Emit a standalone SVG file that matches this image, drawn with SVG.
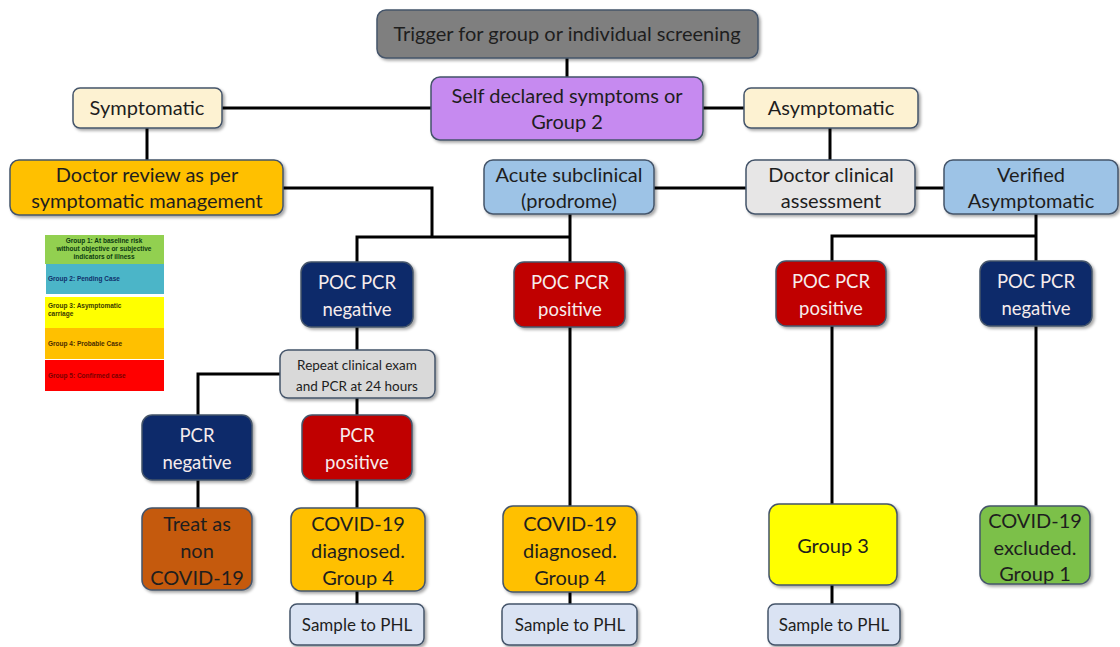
<svg xmlns="http://www.w3.org/2000/svg" width="1120" height="647" viewBox="0 0 1120 647">
<defs>
<filter id="sh" x="-10%" y="-10%" width="130%" height="130%">
<feDropShadow dx="2" dy="2" stdDeviation="1.5" flood-color="#000" flood-opacity="0.35"/>
</filter>
<style>
.b{stroke:#44546a;stroke-width:1.5;filter:url(#sh)}
.t{font-family:Lato,"Open Sans",sans-serif;font-size:20px;text-anchor:middle;fill:#1e1e1e}
.w{fill:#f6ecec;font-size:18.5px}
.s{font-size:13.5px}
.p{font-size:17px}
.lg{font-family:"Liberation Sans Narrow","Liberation Sans",sans-serif;font-size:6.5px;font-weight:bold}
#connectors path{fill:none;stroke:#000;stroke-width:3}
</style>
</defs>
<rect width="1120" height="647" fill="#fff"/>
<g id="connectors">
<path d="M567 58V77"/>
<path d="M222 108H431"/>
<path d="M703 108H744"/>
<path d="M147 128V160"/>
<path d="M830 128V160"/>
<path d="M283 188H432V237"/>
<path d="M654 188H746"/>
<path d="M915 188H944"/>
<path d="M570 214V262"/>
<path d="M357 262V237H570"/>
<path d="M1036 214V261"/>
<path d="M832 261V236H1036"/>
<path d="M357 327V350"/>
<path d="M280 374H198V415"/>
<path d="M357 398V415"/>
<path d="M198 480V508"/>
<path d="M357 480V508"/>
<path d="M357 591V604"/>
<path d="M570 327V506"/>
<path d="M570 592V604"/>
<path d="M832 326V504"/>
<path d="M832 585V604"/>
<path d="M1036 326V506"/>
</g>
<g id="trigger"><rect class="b" x="377" y="10" width="381" height="48" rx="9" fill="#7f7f7f"/><text class="t" x="567" y="41">Trigger for group or individual screening</text></g>
<g id="selfdeclared"><rect class="b" x="431" y="77" width="272" height="63" rx="9" fill="#c68af0"/><text class="t" x="567" y="103">Self declared symptoms or</text><text class="t" x="567" y="129">Group 2</text></g>
<g id="symptomatic"><rect class="b" x="73" y="88" width="149" height="40" rx="7" fill="#fdf2d2"/><text class="t" x="147" y="115">Symptomatic</text></g>
<g id="asymptomatic"><rect class="b" x="744" y="88" width="174" height="40" rx="7" fill="#fdf2d2"/><text class="t" x="831" y="115">Asymptomatic</text></g>
<g id="doctorreview"><rect class="b" x="10" y="160" width="273" height="55" rx="9" fill="#ffc000"/><text class="t" x="147" y="182">Doctor review as per</text><text class="t" x="147" y="208">symptomatic management</text></g>
<g id="acute"><rect class="b" x="484" y="160" width="170" height="54" rx="9" fill="#9dc3e6"/><text class="t" x="569" y="182">Acute subclinical</text><text class="t" x="569" y="208">(prodrome)</text></g>
<g id="doctorclinical"><rect class="b" x="746" y="160" width="169" height="54" rx="9" fill="#e7e6e6"/><text class="t" x="831" y="182">Doctor clinical</text><text class="t" x="831" y="208">assessment</text></g>
<g id="verified"><rect class="b" x="944" y="160" width="174" height="54" rx="9" fill="#9dc3e6"/><text class="t" x="1031" y="182">Verified</text><text class="t" x="1031" y="208">Asymptomatic</text></g>
<g id="pocneg1"><rect class="b" x="301" y="262" width="112" height="65" rx="10" fill="#0e2a6a"/><text class="t w" x="357" y="289">POC PCR</text><text class="t w" x="357" y="316">negative</text></g>
<g id="pocpos1"><rect class="b" x="514" y="262" width="111" height="65" rx="10" fill="#c00000"/><text class="t w" x="570" y="289">POC PCR</text><text class="t w" x="570" y="316">positive</text></g>
<g id="pocpos2"><rect class="b" x="776" y="261" width="110" height="65" rx="10" fill="#c00000"/><text class="t w" x="831" y="288">POC PCR</text><text class="t w" x="831" y="315">positive</text></g>
<g id="pocneg2"><rect class="b" x="980" y="261" width="112" height="65" rx="10" fill="#0e2a6a"/><text class="t w" x="1036" y="288">POC PCR</text><text class="t w" x="1036" y="315">negative</text></g>
<g id="repeat"><rect class="b" x="280" y="350" width="155" height="48" rx="8" fill="#d9d9d9"/><text class="t s" x="357" y="370">Repeat clinical exam</text><text class="t s" x="357" y="391">and PCR at 24 hours</text></g>
<g id="pcrneg"><rect class="b" x="142" y="415" width="110" height="65" rx="10" fill="#0e2a6a"/><text class="t w" x="197" y="442">PCR</text><text class="t w" x="197" y="469">negative</text></g>
<g id="pcrpos"><rect class="b" x="302" y="415" width="110" height="65" rx="10" fill="#c00000"/><text class="t w" x="357" y="442">PCR</text><text class="t w" x="357" y="469">positive</text></g>
<g id="treat"><rect class="b" x="142" y="508" width="110" height="82" rx="10" fill="#c55a11"/><text class="t" x="197" y="531">Treat as</text><text class="t" x="197" y="558">non</text><text class="t" x="197" y="585">COVID-19</text></g>
<g id="diag1"><rect class="b" x="291" y="508" width="134" height="83" rx="10" fill="#ffc000"/><text class="t" x="358" y="531">COVID-19</text><text class="t" x="358" y="558">diagnosed.</text><text class="t" x="358" y="585">Group 4</text></g>
<g id="diag2"><rect class="b" x="503" y="506" width="134" height="86" rx="10" fill="#ffc000"/><text class="t" x="570" y="531">COVID-19</text><text class="t" x="570" y="558">diagnosed.</text><text class="t" x="570" y="585">Group 4</text></g>
<g id="group3"><rect class="b" x="769" y="504" width="128" height="81" rx="10" fill="#ffff00"/><text class="t" x="833" y="553">Group 3</text></g>
<g id="excluded"><rect class="b" x="980" y="506" width="110" height="78" rx="10" fill="#7cc04a"/><text class="t" x="1035" y="528">COVID-19</text><text class="t" x="1035" y="555">excluded.</text><text class="t" x="1035" y="581">Group 1</text></g>
<g id="sample1"><rect class="b" x="290" y="604" width="134" height="41" rx="7" fill="#dae3f3"/><text class="t p" x="357" y="631">Sample to PHL</text></g>
<g id="sample2"><rect class="b" x="502" y="604" width="135" height="41" rx="7" fill="#dae3f3"/><text class="t p" x="570" y="631">Sample to PHL</text></g>
<g id="sample3"><rect class="b" x="768" y="604" width="132" height="41" rx="7" fill="#dae3f3"/><text class="t p" x="834" y="631">Sample to PHL</text></g>
<g id="legend">
<rect x="45" y="235" width="119" height="29" fill="#92d050"/>
<text class="lg" x="104" y="243" text-anchor="middle" fill="#0c3a10">Group 1: At baseline risk</text>
<text class="lg" x="104" y="251" text-anchor="middle" fill="#0c3a10">without objective or subjective</text>
<text class="lg" x="104" y="259" text-anchor="middle" fill="#0c3a10">indicators of illness</text>
<rect x="46" y="264" width="118" height="30" fill="#4bb5c8"/>
<text class="lg" x="48" y="281" fill="#10306a">Group 2: Pending Case</text>
<rect x="45" y="297" width="119" height="31" fill="#ffff00"/>
<text class="lg" x="48" y="308" fill="#3a3a00">Group 3: Asymptomatic</text>
<text class="lg" x="48" y="316" fill="#3a3a00">carriage</text>
<rect x="45" y="328" width="119" height="31" fill="#ffc000"/>
<text class="lg" x="48" y="346" fill="#4a2c00">Group 4: Probable Case</text>
<rect x="45" y="360" width="119" height="31" fill="#ff0000"/>
<text class="lg" x="48" y="378" fill="#7a0000">Group 5: Confirmed case</text>
</g>
</svg>
